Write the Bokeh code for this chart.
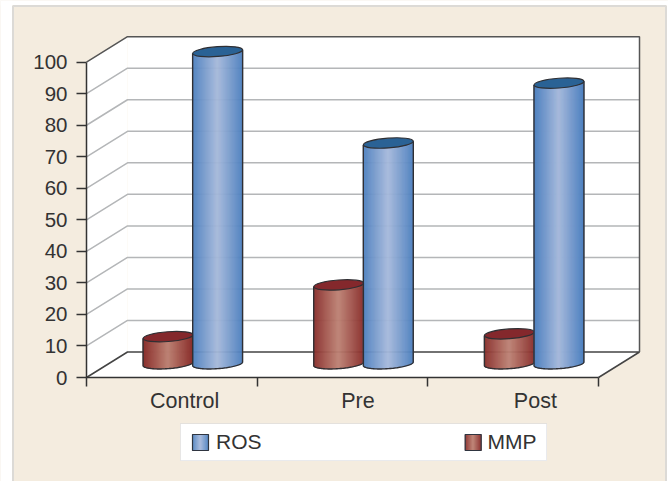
import numpy as np
from bokeh.embed import file_html
from bokeh.resources import INLINE
from bokeh.plotting import figure
from bokeh.models import FixedTicker, Legend, LegendItem, Range1d

# ---- data
categories = ["Control", "Pre", "Post"]
ros_values = [99, 70, 89]
mmp_values = [8.6, 25, 9.5]
y_ticks = [0, 10, 20, 30, 40, 50, 60, 70, 80, 90, 100]
label_positions = [0.575, 1.59, 2.63]
legend_labels = ["ROS", "MMP"]

# ---- scale and style
PANEL = "#f4ecdf"
INK = "#333333"
OX, OY = 0, 0          # picture position of the canvas
W, H = 668, 481
X0, Y0 = 86, 377       # picture pixel of data (0, 0)
PX_X = 170.67          # pixels per category
PX_Y = 3.153           # pixels per y unit
DEPTH_X = 41 / PX_X
DEPTH_Y = 25.5 / PX_Y
BAR_W = 49.6 / PX_X
TILT = 0.075
A, B = 25.0, 4.9


def dx(px):
    return (px - X0) / PX_X


def dy(py):
    return (Y0 - py) / PX_Y


p = figure(width=W, height=H, output_backend="svg", toolbar_location=None,
           x_range=Range1d(dx(OX), dx(OX + W)), y_range=Range1d(dy(OY + H), dy(OY)),
           min_border=0)
p.border_fill_color = PANEL
p.background_fill_color = PANEL
p.outline_line_color = None
p.grid.visible = False

# ---- white page around the panel and the panel's pale edge
for l, r, b, t in [(0, 12, H, 0), (666, W, H, 0), (0, W, 5, 0)]:
    p.quad(left=[dx(l)], right=[dx(r)], bottom=[dy(b)], top=[dy(t)], fill_color="white", line_color=None)
p.line([dx(12.5), dx(12.5), dx(665.5), dx(665.5)], [dy(H), dy(5.5), dy(5.5), dy(H)],
       line_color="#dcdad6", line_width=2)

# ---- axes
ya = p.yaxis[0]
ya.fixed_location = 0
ya.ticker = FixedTicker(ticks=y_ticks)
ya.bounds = (0, 100)
ya.axis_line_color = INK
ya.axis_line_width = 1.5
ya.major_tick_line_color = INK
ya.major_tick_line_width = 1.5
ya.major_tick_out = 10
ya.major_tick_in = 0
ya.major_label_standoff = 9
ya.major_label_text_font = "Liberation Sans"
ya.major_label_text_font_size = "20.5px"
ya.major_label_text_color = INK

xa = p.xaxis[0]
xa.fixed_location = 0
xa.ticker = FixedTicker(ticks=label_positions, minor_ticks=[0, 1, 2, 3])
xa.major_label_overrides = dict(zip(label_positions, categories))
xa.bounds = (0, 3)
xa.axis_line_color = INK
xa.axis_line_width = 1.5
xa.major_tick_out = 0
xa.major_tick_in = 0
xa.minor_tick_out = 9
xa.minor_tick_in = 0
xa.minor_tick_line_color = INK
xa.minor_tick_line_width = 1.5
xa.major_label_standoff = 2
xa.major_label_text_font = "Liberation Sans"
xa.major_label_text_font_size = "21.5px"
xa.major_label_text_color = INK

# ---- walls and floor
top = y_ticks[-1]
p.patch([0, 3, 3 + DEPTH_X, DEPTH_X], [0, 0, DEPTH_Y, DEPTH_Y], fill_color="white", line_color=None)
p.patch([0, DEPTH_X, DEPTH_X, 0], [0, DEPTH_Y, top + DEPTH_Y, top], fill_color="white", line_color=None)
p.patch([DEPTH_X, 3 + DEPTH_X, 3 + DEPTH_X, DEPTH_X], [DEPTH_Y, DEPTH_Y, top + DEPTH_Y, top + DEPTH_Y],
        fill_color="white", line_color=None)
for t in y_ticks[1:-1]:
    p.line([0, DEPTH_X, 3 + DEPTH_X], [t, t + DEPTH_Y, t + DEPTH_Y], line_color="#b4b6b8", line_width=1.5)
p.line([0, DEPTH_X, 3 + DEPTH_X, 3 + DEPTH_X, 3],
       [0, DEPTH_Y, DEPTH_Y, DEPTH_Y, 0], line_color="#444444", line_width=1.5)
p.line([0, DEPTH_X, 3 + DEPTH_X, 3 + DEPTH_X],
       [top, top + DEPTH_Y, top + DEPTH_Y, DEPTH_Y], line_color="#555555", line_width=1.5)


def mix(c0, c1, f):
    a = np.array(c0) + (np.array(c1) - np.array(c0)) * f
    return "#%02x%02x%02x" % tuple(int(round(v)) for v in a)


def arc(cx_px, cy_px, t):
    xs = cx_px + A * np.cos(t) * np.cos(TILT) - B * np.sin(t) * np.sin(TILT)
    ys = cy_px + A * np.cos(t) * np.sin(TILT) + B * np.sin(t) * np.cos(TILT)
    return xs, ys


def cylinder(cx, value, edge, mid, cap):
    """One cylinder standing on the floor, halfway back; cx in category units."""
    base = DEPTH_Y * 0.54
    n = 50
    t = np.linspace(np.pi, 2 * np.pi, 60)
    ax, ay = arc(0.0, 0.0, t)
    offs = np.linspace(-A, A, n + 1)
    lefts = cx + offs[:-1] / PX_X
    rights = cx + offs[1:] / PX_X
    centers = (offs[:-1] + offs[1:]) / 2
    bottoms = base + np.interp(centers, ax, ay) / PX_Y
    tops = base + value + centers * np.tan(TILT) / PX_Y
    cols = [mix(edge, mid, 1 - abs(c) / A) for c in centers]
    p.quad(left=lefts, right=rights, bottom=bottoms, top=tops, fill_color=cols,
           line_color=cols, line_width=0.6)
    ox = np.concatenate([[-A], ax, [A]])
    oy = np.concatenate([[A * -np.sin(TILT) + value * PX_Y], ay, [A * np.sin(TILT) + value * PX_Y]])
    p.line(cx + ox / PX_X, base + oy / PX_Y, line_color="#2f2f33", line_width=1.4)
    p.ellipse(x=[cx], y=[base + value], width=2 * A, height=2 * B, width_units="screen",
              height_units="screen", angle=TILT, fill_color=cap, line_color="#2f2f33", line_width=1.2)


BLUE = ((0x4d, 0x80, 0xbf), (0xa6, 0xb9, 0xdb), "#2a6295")
RED = ((0x8a, 0x2e, 0x2b), (0xbd, 0x82, 0x74), "#84282c")

group_centers = [i + 0.5 + DEPTH_X / 2 + 0.5 / PX_X for i in range(len(categories))]
for c, v in zip(group_centers, mmp_values):
    cylinder(c - BAR_W / 2, v, *RED)
for c, v in zip(group_centers, ros_values):
    cylinder(c + BAR_W / 2, v, *BLUE)

# ---- legend: the white box and gradient keys are glyphs, the Legend over them is see-through
p.quad(left=[dx(180)], right=[dx(546.5)], bottom=[dy(460.5)], top=[dy(423.5)], fill_color="white", line_color=None)
key_renderers = []
for x0, (edge, mid, _) in zip([192, 464.7], [BLUE, RED]):
    n = 16
    lefts = [dx(x0 + i) for i in range(n)]
    rights = [dx(x0 + i + 1) for i in range(n)]
    cols = [mix(edge, mid, 1 - abs(i + 0.5 - n / 2) / (n / 2)) for i in range(n)]
    p.quad(left=lefts, right=rights, bottom=[dy(450)] * n, top=[dy(434)] * n,
           fill_color=cols, line_color=cols, line_width=0.5)
    p.quad(left=[dx(x0)], right=[dx(x0 + 16)], bottom=[dy(450)], top=[dy(434)],
           fill_color=None, line_color="#2f3540", line_width=1.2)
    key_renderers.append(p.quad(left=[dx(x0)], right=[dx(x0 + 16)], bottom=[dy(450)], top=[dy(434)],
                                fill_alpha=0, line_alpha=0))

legend = Legend(items=[LegendItem(label=lab, renderers=[r]) for lab, r in zip(legend_labels, key_renderers)],
                orientation="horizontal",
                location=(180 - OX, OY + H - 460.5),
                padding=dict(left=12, right=9, top=6, bottom=6), margin=0, spacing=203,
                glyph_width=16, glyph_height=16,
                label_standoff=7, label_text_font="Liberation Sans",
                label_text_font_size="21px",
                label_text_color=INK, border_line_color="#d4d6dc", border_line_width=1.5,
                background_fill_alpha=0)
p.add_layout(legend, "center")

open("out.html", "w").write(file_html(p, INLINE))
